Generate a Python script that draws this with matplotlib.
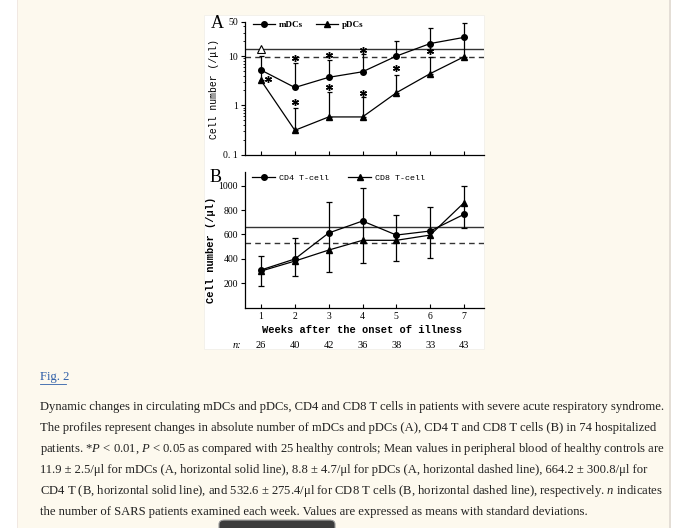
import numpy as np
import matplotlib
matplotlib.use('Agg')
from matplotlib import pyplot as plt
from matplotlib.lines import Line2D
from matplotlib.patches import Rectangle, FancyBboxPatch
import matplotlib.transforms as mtrans
from matplotlib.ticker import FixedLocator, LogLocator, NullFormatter

plt.rcParams['mathtext.fontset'] = 'custom'
plt.rcParams['mathtext.rm'] = 'Liberation Serif'
plt.rcParams['mathtext.it'] = 'Liberation Serif:italic'

# data
weeks = [1, 2, 3, 4, 5, 6, 7]
n_pat = [26, 40, 42, 36, 38, 33, 43]

mdc = [5.2, 2.3, 3.7, 4.8, 10.0, 18.0, 24.0]
mdc_top = [10.0, 7.1, 8.3, 10.8, 20.5, 36.7, 48.0]
pdc = [3.2, 0.31, 0.58, 0.58, 1.8, 4.4, 9.7]
pdc_top = [5.2, 0.88, 1.87, 1.48, 4.2, 9.7, 24.0]
mdc_ctrl = 14.0
pdc_ctrl = 9.4
star_a_x = [1.22, 2, 2, 3, 3, 4, 4, 5, 6]
star_a_y = [3.35, 9.0, 1.17, 10.5, 2.36, 13.2, 1.8, 5.6, 12.6]
open_tri_y = 13.9

cd4 = [309, 399, 612, 710, 595, 628, 765]
cd8 = [300, 382, 472, 552, 552, 595, 860]
bar_hi = [426, 573, 863, 983, 759, 827, 999]
bar_lo = [180, 260, 295, 369, 382, 405, 650]
cd4_ctrl = 664.2
cd8_ctrl = 532.6

caption = [
    "Dynamic changes in circulating mDCs and pDCs, CD4 and CD8 T cells in patients with severe acute respiratory syndrome.",
    "The profiles represent changes in absolute number of mDCs and pDCs (A), CD4 T and CD8 T cells (B) in 74 hospitalized",
    "patients. *$P$ < 0.01, $P$ < 0.05 as compared with 25 healthy controls; Mean values in peripheral blood of healthy controls are",
    "11.9 \u00b1 2.5/\u03bcl for mDCs (A, horizontal solid line), 8.8 \u00b1 4.7/\u03bcl for pDCs (A, horizontal dashed line), 664.2 \u00b1 300.8/\u03bcl for",
    "CD4 T (B, horizontal solid line), and 532.6 \u00b1 275.4/\u03bcl for CD8 T cells (B, horizontal dashed line), respectively. $n$ indicates",
    "the number of SARS patients examined each week. Values are expressed as means with standard deviations.",
]

W, H = 680, 528
fig = plt.figure(figsize=(W / 100, H / 100), dpi=100)
fig.patch.set_facecolor('white')

def box(x0, y0, x1, y1):
    return [x0 / W, 1 - y1 / H, (x1 - x0) / W, (y1 - y0) / H]

# page background (behind the axes)
fig.patches.append(Rectangle((18 / W, 0), (669 - 18) / W, 1, transform=fig.transFigure,
                             facecolor='#fdf9ee', edgecolor='none', zorder=-3))
fig.patches.append(Rectangle((669 / W, 0), 2 / W, 1, transform=fig.transFigure,
                             facecolor='#e4ded6', edgecolor='none', zorder=-3))
fig.patches.append(Rectangle((17 / W, 0), 1 / W, 1, transform=fig.transFigure,
                             facecolor='#f1e8e2', edgecolor='none', zorder=-3))
fig.patches.append(Rectangle((204 / W, 1 - 349 / H), 280 / W, 334 / H, transform=fig.transFigure,
                             facecolor='white', edgecolor='#f2f0ea', lw=0.6, zorder=-2))

tick_font = dict(family='Liberation Serif', size=7)
mono = 'Liberation Mono'

# ---- panel A
ax = fig.add_axes(box(245, 21.7, 484, 154.5))
ax.set_facecolor('none')
ax.set_yscale('log')
ax.set_xlim(0.527, 7.59)
ax.set_ylim(0.1, 50)
ax.axhline(mdc_ctrl, color='#333333', lw=1.0)
ax.axhline(pdc_ctrl, color='#333333', lw=1.0, ls=(0, (4, 3)))
ax.errorbar(weeks, mdc, yerr=[np.zeros(7), np.array(mdc_top) - np.array(mdc)], fmt='none',
            ecolor='k', elinewidth=0.9, capsize=1.8, capthick=0.9)
ax.errorbar(weeks, pdc, yerr=[np.zeros(7), np.array(pdc_top) - np.array(pdc)], fmt='none',
            ecolor='k', elinewidth=0.9, capsize=1.8, capthick=0.9)
ax.plot(weeks, mdc, color='k', lw=0.9, marker='o', ms=4)
ax.plot(weeks, pdc, color='k', lw=0.9, marker='^', ms=4)
ax.plot(star_a_x, star_a_y, ls='none', marker=(6, 2, 0), ms=5, mew=1.0, color='k')
ax.plot([1], [open_tri_y], ls='none', marker='^', ms=6, mfc='white', mec='k', mew=0.8)
for s in ['top', 'right']:
    ax.spines[s].set_visible(False)
for s in ['left', 'bottom']:
    ax.spines[s].set_linewidth(0.9)
ax.set_xticks(weeks)
ax.set_xticklabels([])
ax.tick_params(axis='x', direction='in', length=3, width=0.8)
ax.yaxis.set_major_locator(FixedLocator([0.1, 1, 10, 50]))
ax.set_yticklabels(['0. 1', '1', '10', '50'], **tick_font)
ax.yaxis.set_minor_locator(LogLocator(base=10, subs=np.arange(2, 10)))
ax.yaxis.set_minor_formatter(NullFormatter())
ax.tick_params(axis='y', which='major', direction='out', length=3, width=0.8, pad=2)
ax.tick_params(axis='y', which='minor', direction='out', length=1.5, width=0.6)
h1 = Line2D([], [], color='k', lw=0.9, marker='o', ms=4)
h2 = Line2D([], [], color='k', lw=0.9, marker='^', ms=4)
ax.legend([h1, h2], ['mDCs', 'pDCs'], loc='center left', bbox_to_anchor=(253 / W, 1 - 25 / H),
          bbox_transform=fig.transFigure, ncol=2, frameon=False, borderpad=0, borderaxespad=0,
          handlelength=2.4, handletextpad=0.5, columnspacing=1.4,
          prop=dict(family='Liberation Serif', size=6.5, weight='bold'))
fig.text(217 / W, 1 - 24 / H, 'A', family='Liberation Serif', size=13, ha='center', va='center')
fig.text(214 / W, 1 - 89 / H, 'Cell number (/\u03bcl)', family=mono, size=7, rotation=90,
         ha='center', va='center')

# ---- panel B
bx = fig.add_axes(box(245, 171.7, 484, 307.7))
bx.set_facecolor('none')
bx.set_xlim(0.527, 7.59)
bx.set_ylim(0, 1114)
bx.axhline(cd4_ctrl, color='#333333', lw=1.0)
bx.axhline(cd8_ctrl, color='#333333', lw=1.0, ls=(0, (4, 3)))
bx.errorbar(weeks, cd4, yerr=[np.array(cd4) - np.array(bar_lo), np.array(bar_hi) - np.array(cd4)],
            fmt='none', ecolor='k', elinewidth=0.9, capsize=2.4, capthick=0.9)
bx.plot(weeks, cd4, color='k', lw=0.9, marker='o', ms=4)
bx.plot(weeks, cd8, color='k', lw=0.9, marker='^', ms=4)
for s in ['top', 'right']:
    bx.spines[s].set_visible(False)
for s in ['left', 'bottom']:
    bx.spines[s].set_linewidth(0.9)
bx.set_xticks(weeks)
bx.set_xticklabels([str(w) for w in weeks], **tick_font)
bx.tick_params(axis='x', direction='in', length=3, width=0.8, pad=3)
bx.set_yticks([200, 400, 600, 800, 1000])
bx.set_yticklabels(['200', '400', '600', '800', '1000'], **tick_font)
bx.tick_params(axis='y', direction='out', length=3, width=0.8, pad=2)
bx.legend([h1, h2], ['CD4 T-cell', 'CD8 T-cell'], loc='center left', bbox_to_anchor=(252 / W, 1 - 178 / H),
          bbox_transform=fig.transFigure, ncol=2, frameon=False, borderpad=0, borderaxespad=0,
          handlelength=2.8, handletextpad=0.4, columnspacing=2.3,
          prop=dict(family=mono, size=6))
fig.text(216 / W, 1 - 177 / H, 'B', family='Liberation Serif', size=13, ha='center', va='center')
fig.text(211 / W, 1 - 250 / H, 'Cell number (/\u03bcl)', family=mono, size=7.5, weight='bold',
         rotation=90, ha='center', va='center')
fig.text(362 / W, 1 - 330 / H, 'Weeks after the onset of illness', family=mono, size=7.5,
         weight='bold', ha='center', va='center')
trans = mtrans.blended_transform_factory(bx.transData, fig.transFigure)
for w, n in zip(weeks, n_pat):
    bx.text(w, 1 - 345 / H, str(n), transform=trans, family='Liberation Serif', size=7.5,
            ha='center', va='center')
fig.text(237 / W, 1 - 345 / H, 'n:', family='Liberation Serif', style='italic', size=7.5,
         ha='center', va='center')

# ---- caption
fig.text(40 / W, 1 - 377 / H, 'Fig. 2', family='Liberation Serif', size=9.1, color='#2f5fa8',
         ha='left', va='center')
fig.lines.append(Line2D([40 / W, 66 / W], [1 - 384 / H, 1 - 384 / H], transform=fig.transFigure,
                        color='#2f5fa8', lw=0.6))
for i, line in enumerate(caption):
    fig.text(40 / W, 1 - (407 + 21 * i) / H, line, family='Liberation Serif', size=9.1,
             color='#222222', ha='left', va='center')

# button at bottom edge
fig.patches.append(FancyBboxPatch((219 / W, -0.02), 116 / W, 0.035, transform=fig.transFigure,
                                  boxstyle='round,pad=0,rounding_size=0.008', facecolor='#3c3c3c',
                                  edgecolor='#9a9a9a', lw=0.8))

fig.savefig('out.png', dpi=100)
